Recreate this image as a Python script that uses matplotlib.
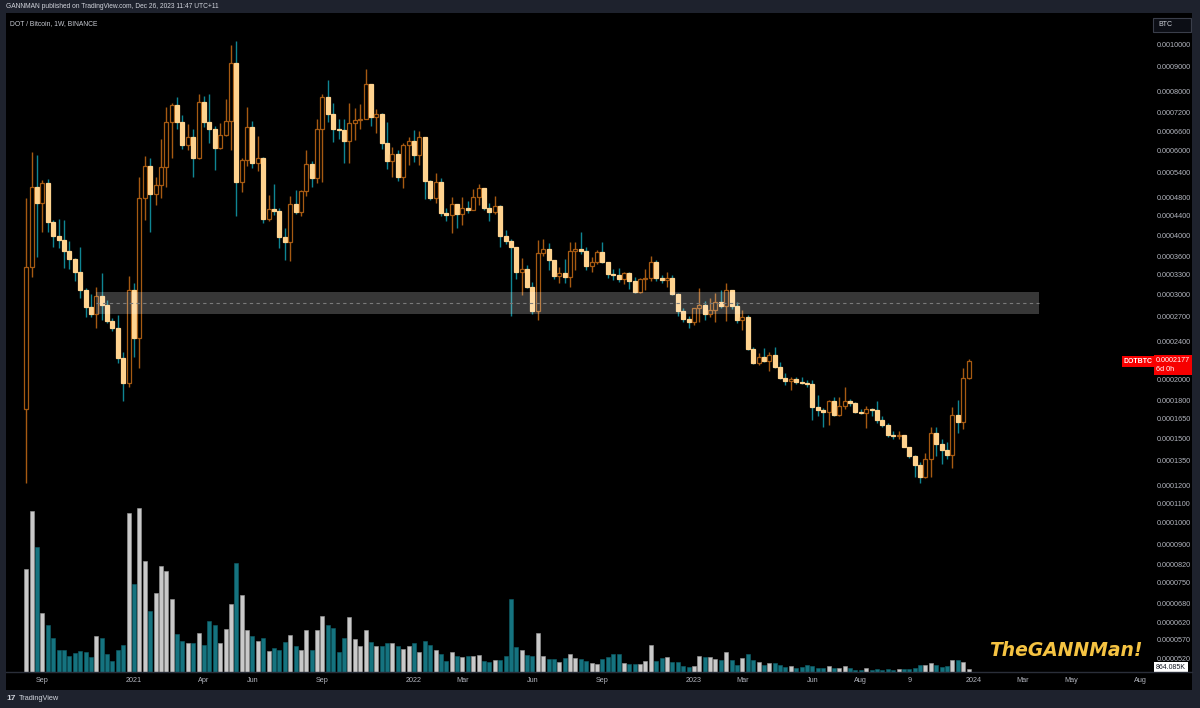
import matplotlib
matplotlib.use("Agg")
import matplotlib.pyplot as plt
import matplotlib.dates as mdates
import matplotlib.transforms as mtrans
from matplotlib.patches import Rectangle
import numpy as np
import pandas as pd

# ---------------- data (prices in units of 0.0001 BTC, volume in millions) -------------
FIRST_WEEK = "2020-08-17"
PRICE_UNIT = 1e-4
first_open = 1.73
close_ = [3.43, 5.04, 4.67, 5.14, 4.26, 3.98, 3.91, 3.70, 3.56, 3.34,
          3.07, 2.83, 2.73, 2.98, 2.85, 2.65, 2.56, 2.21, 1.96, 3.07,
          2.44, 4.78, 5.57, 4.87, 5.09, 5.54, 6.88, 7.48, 6.88, 6.17,
          6.40, 5.79, 7.59, 6.88, 6.66, 6.08, 6.47, 6.91, 9.15, 5.17,
          5.74, 6.72, 5.66, 5.79, 4.32, 4.53, 4.50, 3.96, 3.87, 4.64,
          4.47, 4.94, 5.62, 5.26, 6.66, 7.78, 7.16, 6.66, 6.63, 6.29,
          6.85, 6.95, 7.00, 8.28, 7.06, 7.16, 6.23, 5.70, 5.91, 5.30,
          6.17, 6.29, 5.88, 6.40, 5.19, 4.78, 5.17, 4.45, 4.40, 4.64,
          4.42, 4.55, 4.52, 4.80, 5.01, 4.55, 4.47, 4.60, 3.98, 3.89,
          3.78, 3.35, 3.40, 3.11, 2.78, 3.67, 3.74, 3.55, 3.28, 3.33,
          3.27, 3.70, 3.74, 3.70, 3.45, 3.51, 3.68, 3.51, 3.32, 3.30,
          3.23, 3.33, 3.20, 3.04, 3.23, 3.26, 3.51, 3.25, 3.22, 3.26,
          3.01, 2.78, 2.67, 2.63, 2.82, 2.85, 2.73, 2.79, 2.90, 2.84,
          3.07, 2.84, 2.66, 2.69, 2.31, 2.16, 2.22, 2.18, 2.25, 2.12,
          2.01, 1.98, 2.00, 1.97, 1.96, 1.955, 1.75, 1.72, 1.71, 1.80,
          1.68, 1.76, 1.80, 1.78, 1.71, 1.70, 1.73, 1.72, 1.64, 1.60,
          1.53, 1.52, 1.53, 1.44, 1.38, 1.32, 1.25, 1.36, 1.54, 1.46,
          1.42, 1.39, 1.68, 1.63, 2.01, 2.177]
high_ = [4.78, 5.97, 5.88, 5.21, 5.23, 4.30, 4.32, 4.30, 3.89, 3.58,
         3.77, 3.10, 3.01, 3.12, 3.33, 2.93, 2.68, 2.72, 2.28, 3.28,
         3.17, 5.30, 5.85, 5.79, 5.30, 6.35, 7.41, 7.55, 7.78, 7.12,
         6.82, 6.66, 7.88, 7.80, 7.88, 6.75, 6.85, 7.69, 10.0, 10.2,
         5.80, 7.41, 6.91, 6.44, 5.82, 4.85, 5.11, 4.55, 4.14, 4.83,
         4.97, 4.97, 6.02, 5.70, 6.98, 7.88, 8.44, 7.55, 6.98, 7.01,
         7.55, 7.37, 7.51, 8.90, 8.28, 7.34, 7.20, 6.88, 6.12, 6.02,
         6.23, 6.40, 6.63, 6.60, 6.40, 5.21, 5.38, 5.26, 4.55, 4.80,
         4.64, 4.80, 4.72, 4.99, 5.11, 5.01, 4.67, 4.83, 4.62, 4.10,
         3.93, 3.78, 3.58, 3.46, 3.19, 3.91, 3.93, 3.85, 3.55, 3.43,
         3.57, 3.87, 3.87, 4.06, 3.78, 3.60, 3.72, 3.87, 3.51, 3.40,
         3.42, 3.35, 3.35, 3.27, 3.26, 3.40, 3.62, 3.55, 3.30, 3.35,
         3.30, 3.03, 2.81, 2.71, 2.82, 3.10, 2.91, 2.96, 3.03, 3.07,
         3.17, 3.07, 2.90, 2.79, 2.72, 2.33, 2.27, 2.32, 2.28, 2.33,
         2.17, 2.06, 2.02, 2.02, 2.02, 1.99, 1.99, 1.85, 1.74, 1.81,
         1.83, 1.83, 1.92, 1.82, 1.79, 1.73, 1.76, 1.74, 1.80, 1.67,
         1.62, 1.56, 1.56, 1.53, 1.44, 1.39, 1.34, 1.40, 1.59, 1.59,
         1.50, 1.48, 1.75, 1.81, 2.11, 2.20]
low_ = [1.21, 3.27, 3.60, 4.06, 4.06, 3.77, 3.76, 3.41, 3.40, 3.21,
        2.95, 2.70, 2.69, 2.56, 2.66, 2.62, 2.52, 2.16, 1.80, 1.92,
        2.22, 2.11, 4.30, 4.06, 4.62, 4.78, 5.04, 5.79, 6.66, 6.05,
        6.02, 5.30, 5.77, 6.72, 6.23, 5.47, 6.05, 6.44, 6.02, 4.38,
        4.92, 5.57, 5.53, 5.44, 4.24, 4.28, 4.40, 3.76, 3.55, 3.53,
        4.42, 4.38, 4.83, 5.04, 5.14, 5.17, 6.88, 6.26, 6.36, 5.66,
        5.66, 6.32, 6.66, 6.98, 6.75, 6.53, 6.05, 5.50, 5.30, 5.20,
        5.01, 5.60, 5.68, 5.60, 4.76, 4.74, 4.67, 4.38, 4.28, 4.04,
        4.14, 4.20, 4.45, 4.52, 4.62, 4.52, 4.28, 4.42, 3.77, 3.83,
        2.71, 3.23, 3.00, 3.10, 2.73, 2.66, 3.62, 3.38, 3.23, 3.18,
        3.18, 3.12, 3.38, 3.65, 3.38, 3.35, 3.48, 3.50, 3.25, 3.22,
        3.19, 3.16, 3.09, 3.03, 3.02, 3.07, 3.20, 3.20, 3.18, 3.12,
        3.00, 2.71, 2.63, 2.56, 2.60, 2.63, 2.66, 2.70, 2.63, 2.81,
        2.65, 2.80, 2.62, 2.53, 2.30, 2.15, 2.14, 2.17, 2.08, 2.11,
        2.00, 1.94, 1.90, 1.95, 1.95, 1.92, 1.64, 1.67, 1.59, 1.60,
        1.67, 1.67, 1.73, 1.76, 1.70, 1.69, 1.58, 1.67, 1.62, 1.59,
        1.51, 1.50, 1.50, 1.44, 1.37, 1.25, 1.21, 1.24, 1.25, 1.38,
        1.33, 1.36, 1.30, 1.54, 1.57, 2.00]
volume_m = [29.9, 46.7, 36.3, 17.1, 13.6, 9.9, 6.4, 6.4, 4.6, 5.5,
            6.1, 5.8, 4.4, 10.4, 9.9, 5.2, 3.2, 6.4, 7.8, 46.1,
            25.5, 47.6, 32.2, 17.7, 22.9, 30.7, 29.3, 21.2, 11.0, 9.0,
            8.4, 8.4, 11.3, 7.8, 14.8, 13.6, 8.4, 12.5, 19.7, 31.6,
            22.3, 12.2, 10.4, 9.0, 9.9, 6.1, 7.0, 6.4, 8.7, 10.6,
            7.5, 6.4, 12.1, 6.3, 12.3, 16.3, 13.7, 12.8, 5.7, 9.8,
            16.0, 9.6, 7.5, 12.3, 8.7, 7.6, 7.5, 8.4, 8.4, 7.5,
            6.6, 7.5, 8.4, 5.7, 9.1, 7.7, 6.3, 5.1, 3.1, 5.7,
            4.7, 4.4, 4.6, 4.6, 4.9, 3.3, 2.8, 3.6, 3.4, 4.7,
            21.2, 7.2, 6.4, 5.0, 4.6, 11.4, 4.7, 3.9, 3.7, 3.0,
            4.1, 5.1, 4.1, 3.8, 3.3, 2.7, 2.3, 3.9, 4.4, 5.3,
            5.3, 2.7, 2.2, 2.2, 2.4, 3.2, 7.7, 3.1, 4.0, 4.3,
            2.8, 2.8, 1.7, 1.4, 1.7, 4.7, 4.4, 4.3, 3.7, 3.4,
            5.9, 3.5, 2.0, 4.1, 5.2, 3.6, 2.8, 2.0, 2.5, 2.5,
            2.0, 1.4, 1.7, 1.1, 1.5, 1.9, 1.7, 1.1, 1.2, 1.7,
            1.2, 1.2, 1.7, 1.2, 0.7, 0.5, 1.1, 0.5, 0.8, 0.5,
            0.9, 0.5, 0.8, 0.8, 0.8, 1.1, 1.9, 1.9, 2.5, 2.0,
            1.5, 1.7, 3.4, 3.6, 2.9, 0.864]

price_tick_labels = ["0.0010000", "0.0009000", "0.0008000", "0.0007200", "0.0006600",
                     "0.0006000", "0.0005400", "0.0004800", "0.0004400", "0.0004000",
                     "0.0003600", "0.0003300", "0.0003000", "0.0002700", "0.0002400",
                     "0.0002000", "0.0001800", "0.0001650", "0.0001500", "0.0001350",
                     "0.0001200", "0.0001100", "0.0001000", "0.0000900", "0.0000820",
                     "0.0000750", "0.0000680", "0.0000620", "0.0000570", "0.0000520"]
time_tick_dates = ["2020-09-07", "2021-01-04", "2021-04-05", "2021-06-07", "2021-09-06",
                   "2022-01-03", "2022-03-07", "2022-06-06", "2022-09-05", "2023-01-02",
                   "2023-03-06", "2023-06-05", "2023-08-07", "2023-10-09", "2024-01-01",
                   "2024-03-04", "2024-05-06", "2024-08-05"]
time_tick_labels = ["Sep", "2021", "Apr", "Jun", "Sep", "2022", "Mar", "Jun", "Sep", "2023",
                    "Mar", "Jun", "Aug", "9", "2024", "Mar", "May", "Aug"]

ZONE_START, ZONE_END = "2020-11-16", "2024-03-25"
ZONE_LOW, ZONE_HIGH, ZONE_MID = 2.73, 3.035, 2.885

# ---------------- styles -------------
NAVY = "#1e222d"
TXT = "#b2b5be"
UP_EDGE = "#a65a12"
DOWN_FILL = "#ffd38f"
DOWN_WICK = "#0f8593"
VOL_UP = "#c9c9c9"
VOL_DOWN = "#15737f"
FONT = "Liberation Sans"

W, H = 1200, 708
fig = plt.figure(figsize=(W / 100, H / 100), dpi=100, facecolor=NAVY)


def fx(px):
    return px / W


def fy(py):
    return 1 - py / H


fig.patches.append(Rectangle((fx(6), fy(690)), fx(1192) - fx(6), fy(13) - fy(690),
                             transform=fig.transFigure, facecolor="black",
                             edgecolor="none", zorder=-10))

rect = [fx(6), fy(672), fx(1192) - fx(6), fy(13) - fy(672)]
axv = fig.add_axes(rect, facecolor="black")
ax = fig.add_axes(rect, sharex=axv, facecolor="none")

opens = np.array([first_open] + close_[:-1])
close = np.array(close_)
high = np.array(high_)
low = np.array(low_)
vol = np.array(volume_m)
dates = pd.date_range(FIRST_WEEK, periods=len(close), freq="7D")
xd = mdates.date2num(dates)
up = close >= opens
S = PRICE_UNIT
bw = 5.2

# volume
axv.bar(xd, vol, width=bw, color=np.where(up, VOL_UP, VOL_DOWN),
        edgecolor=np.where(up, "#9a9a9a", "#0f5f69"), linewidth=0.4, zorder=2)
axv.set_ylim(0, 191.1)
axv.set_yticks([])
axv.tick_params(axis="x", length=0, labelbottom=False)
for s in axv.spines.values():
    s.set_visible(False)

# candles
ax.vlines(xd, low * S, high * S, colors=np.where(up, UP_EDGE, DOWN_WICK),
          linewidth=1.0, zorder=2)
ax.bar(xd, np.abs(close - opens) * S, bottom=np.minimum(close, opens) * S, width=bw,
       color=np.where(up, "black", DOWN_FILL), edgecolor=np.where(up, UP_EDGE, DOWN_FILL),
       linewidth=0.9, zorder=3)

# zone
z0 = mdates.date2num(pd.Timestamp(ZONE_START))
z1 = mdates.date2num(pd.Timestamp(ZONE_END))
ax.add_patch(Rectangle((z0, ZONE_LOW * S), z1 - z0, (ZONE_HIGH - ZONE_LOW) * S,
                       facecolor="white", alpha=0.22, edgecolor="none", zorder=4))
ax.hlines(ZONE_MID * S, z0, z1, colors="#7a7a7a", linestyles=(0, (3, 3)),
          linewidth=0.8, zorder=5)

ax.set_yscale("log")
ax.set_ylim(0.488e-4, 11.65e-4)
x0 = xd[0]
axv.set_xlim(x0 - 3.77 * 7, x0 + 216.5 * 7)

ax.yaxis.set_minor_locator(matplotlib.ticker.NullLocator())
ax.yaxis.set_minor_formatter(matplotlib.ticker.NullFormatter())
ax.set_yticks([float(t) for t in price_tick_labels])
ax.set_yticklabels(price_tick_labels, fontfamily=FONT)
ax.yaxis.tick_right()
ax.tick_params(axis="y", which="both", length=0, pad=-25.2, labelsize=5.2, labelcolor=TXT)

ax.set_xticks([mdates.date2num(pd.Timestamp(d)) for d in time_tick_dates])
ax.set_xticklabels(time_tick_labels, fontfamily=FONT)
ax.tick_params(axis="x", length=0, pad=3.5, labelsize=5.2, labelcolor=TXT)
for k, s in ax.spines.items():
    s.set_visible(False)
ax.spines["bottom"].set_visible(True)
ax.spines["bottom"].set_color("#2a2e39")
ax.spines["bottom"].set_linewidth(1.0)

# header texts
fig.text(fx(6), fy(7), "GANNMAN published on TradingView.com, Dec 26, 2023 11:47 UTC+11",
         color="#d1d4dc", fontsize=4.8, va="center", fontfamily=FONT)
fig.text(fx(10), fy(24), "DOT / Bitcoin, 1W, BINANCE", color="#c8cbd3", fontsize=4.9,
         va="center", fontfamily=FONT)

# BTC box
fig.patches.append(Rectangle((fx(1153), fy(32)), fx(1191) - fx(1153), fy(18) - fy(32),
                             transform=fig.transFigure, facecolor="#0c0e15",
                             edgecolor="#3a3e4a", linewidth=0.8, zorder=5))
fig.text(fx(1158), fy(25), "BTC", color="#d1d4dc", fontsize=5, va="center",
         fontfamily=FONT, zorder=6)

# last price labels (tied to last close)
blend = mtrans.blended_transform_factory(fig.transFigure, ax.transData)
last_p = close[-1] * S
ax.text(fx(1124), last_p, "DOTBTC", transform=blend, color="white", fontsize=5,
        va="center", ha="left", fontfamily=FONT, fontweight="bold",
        bbox=dict(boxstyle="square,pad=0.25", facecolor="#f70000", edgecolor="none"),
        zorder=10, clip_on=False)
ax.text(fx(1156), last_p, "0.0002177\n6d 0h", transform=mtrans.offset_copy(blend, fig=fig, x=0, y=4, units="dots"),
        color="white", fontsize=5.2, va="top", ha="left", fontfamily=FONT,
        linespacing=1.35,
        bbox=dict(boxstyle="square,pad=0.3", facecolor="#f70000", edgecolor="none"),
        zorder=10, clip_on=False)

# volume label (tied to last volume)
blendv = mtrans.blended_transform_factory(fig.transFigure, axv.transData)
axv.text(fx(1156), vol[-1], "864.085K",
         transform=mtrans.offset_copy(blendv, fig=fig, x=0, y=2, units="dots"),
         color="#131722", fontsize=5, va="center", ha="left", fontfamily=FONT,
         bbox=dict(boxstyle="square,pad=0.25", facecolor="white", edgecolor="none"),
         zorder=10, clip_on=False)

# watermark signature
fig.text(fx(989), fy(650), "TheGANNMan!", color="#f5c342", fontsize=13.5,
         fontweight="bold", fontstyle="italic", va="center", ha="left",
         fontfamily="DejaVu Sans")

# footer
fig.text(fx(6), fy(698), "17", color="#d1d4dc", fontsize=6, fontweight="heavy",
         va="center", fontfamily=FONT)
fig.text(fx(19), fy(698), "TradingView", color="#d1d4dc", fontsize=5.3, va="center",
         fontfamily=FONT)

fig.savefig("out.png", dpi=100, facecolor=NAVY)
